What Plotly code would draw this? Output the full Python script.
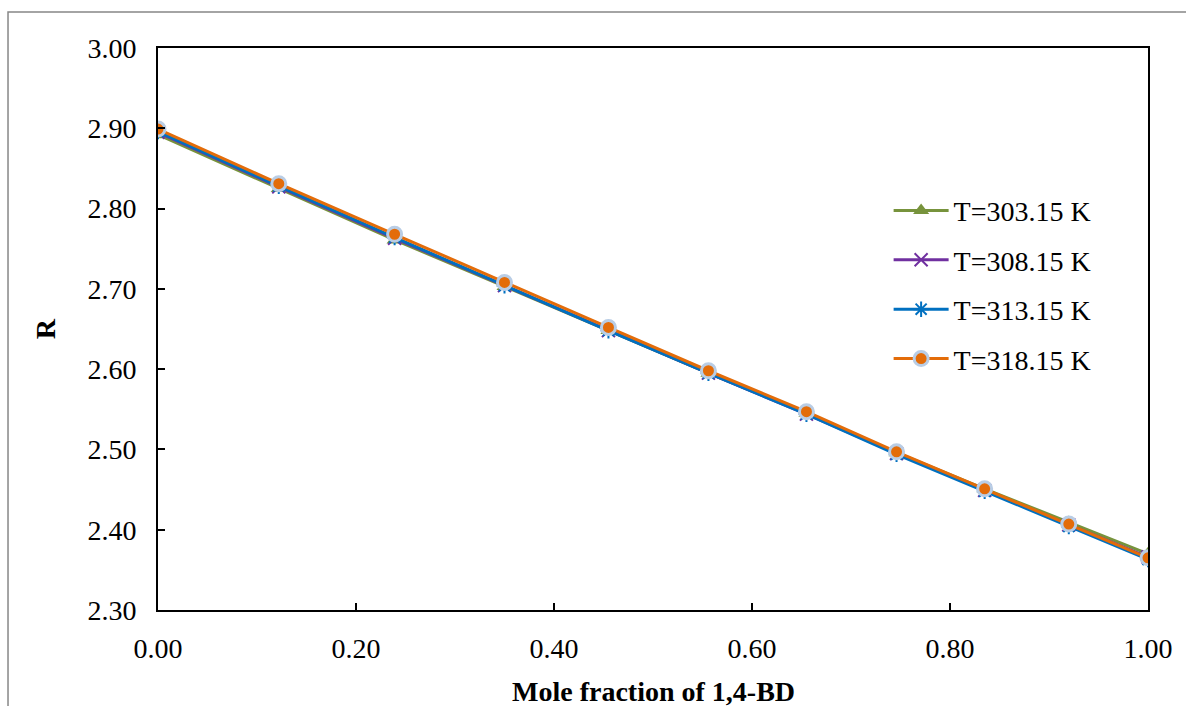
import plotly.graph_objects as go

x_frac = [0.0, 0.122, 0.239, 0.350, 0.455, 0.556, 0.655, 0.746, 0.835, 0.920, 1.0]
R_303 = [2.892, 2.825, 2.761, 2.703, 2.648, 2.595, 2.545, 2.496, 2.451, 2.409, 2.370]
R_308 = [2.895, 2.827, 2.763, 2.704, 2.648, 2.595, 2.544, 2.495, 2.449, 2.406, 2.366]
R_313 = [2.896, 2.828, 2.764, 2.704, 2.648, 2.595, 2.544, 2.494, 2.448, 2.404, 2.363]
R_318 = [2.899, 2.831, 2.768, 2.708, 2.652, 2.598, 2.547, 2.497, 2.451, 2.407, 2.365]
names = ["T=303.15 K", "T=308.15 K", "T=313.15 K", "T=318.15 K"]
x_ticks = [0.0, 0.2, 0.4, 0.6, 0.8, 1.0]
y_ticks = [2.3, 2.4, 2.5, 2.6, 2.7, 2.8, 2.9, 3.0]

FONT = "Liberation Serif"
fig = go.Figure()
styles = [
    dict(color="#77933C", marker=dict(symbol="triangle-up", size=14, color="#77933C")),
    dict(color="#7030A0", marker=dict(symbol="x-thin-open", size=13, line=dict(color="#7030A0", width=2))),
    dict(color="#0070C0", marker=dict(symbol="asterisk-open", size=13, line=dict(color="#0070C0", width=2))),
    dict(color="#E36C09", marker=dict(symbol="circle", size=14, color="#E36C09", line=dict(color="#B9CDE5", width=3))),
]
for i, (ys, nm) in enumerate(zip([R_303, R_308, R_313, R_318], names)):
    st = styles[i]
    fig.add_trace(go.Scatter(
        x=x_frac, y=ys, name=nm, mode="lines+markers",
        line=dict(color=st["color"], width=3),
        marker=st["marker"], legendgroup=f"g{i}",
    ))

fig.update_layout(
    width=1186, height=706,
    margin=dict(l=158, r=38, t=48, b=96),
    paper_bgcolor="white", plot_bgcolor="white",
    font=dict(family=FONT, size=28, color="black"),
    showlegend=True,
    legend=dict(x=0.738, y=0.755, xanchor="left", yanchor="top",
                bgcolor="rgba(0,0,0,0)", font=dict(size=28, family=FONT),
                tracegroupgap=10, itemwidth=55),
    xaxis=dict(range=[0, 1], tickvals=x_ticks, tickformat=".2f",
               showline=True, linecolor="black", linewidth=2, mirror=True,
               ticks="inside", ticklen=7, tickwidth=2, tickcolor="black",
               showgrid=False, zeroline=False, ticklabelstandoff=12,
               tickfont=dict(size=28, family=FONT)),
    yaxis=dict(range=[2.3, 3.0], tickvals=y_ticks, tickformat=".2f",
               showline=True, linecolor="black", linewidth=2, mirror=True,
               ticks="inside", ticklen=7, tickwidth=2, tickcolor="black",
               showgrid=False, zeroline=False, ticklabelstandoff=14,
               tickfont=dict(size=28, family=FONT)),
    annotations=[
        dict(text="<b>Mole fraction of 1,4-BD</b>", xref="paper", yref="paper",
             x=0.5, y=-0.145, xanchor="center", yanchor="middle", showarrow=False,
             font=dict(size=28, family=FONT)),
        dict(text="<b>R</b>", xref="paper", yref="paper",
             x=-0.114, y=0.5, xanchor="center", yanchor="middle", showarrow=False,
             textangle=-90, font=dict(size=28, family=FONT)),
    ],
    shapes=[dict(type="rect", xref="paper", yref="paper",
                 x0=-0.1515, x1=1.06, y0=-0.3, y1=1.064,
                 line=dict(color="#878787", width=1.5), layer="below")],
)
fig.write_html("out.html")
